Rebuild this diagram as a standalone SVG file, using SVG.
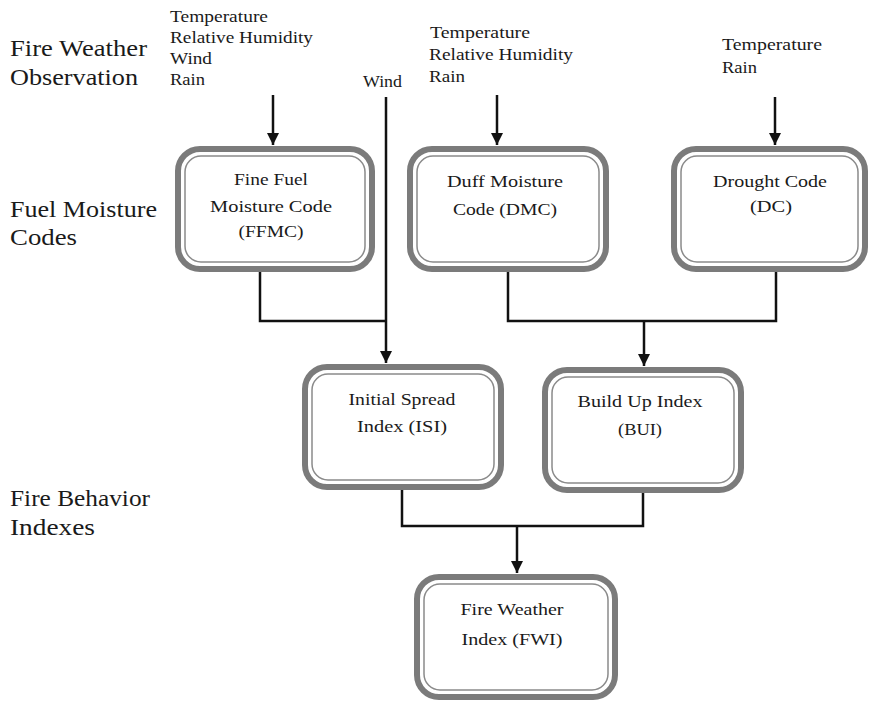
<svg xmlns="http://www.w3.org/2000/svg" width="869" height="701" viewBox="0 0 869 701">
<defs>
<style>
.bg{fill:#fff}
.outer{fill:#fff;stroke:#7b7b7b;stroke-width:6}
.inner{fill:none;stroke:#8a8a8a;stroke-width:1.5}
.sec{font-size:23px;fill:#1a1a1a}
.inp{font-size:17px;fill:#1a1a1a}
.lbl{font-size:17px;fill:#1a1a1a;text-anchor:middle}
.ln{fill:none;stroke:#111;stroke-width:2.5}
</style>
<marker id="ah" viewBox="0 0 10 10" refX="10" refY="5" markerWidth="5" markerHeight="5" markerUnits="strokeWidth" orient="auto">
<path d="M0,0 L10,5 L0,10 z" fill="#111"/>
</marker>
</defs>
<rect class="bg" x="0" y="0" width="869" height="701"/>
<g font-family="'Liberation Serif', 'DejaVu Serif', 'Times New Roman', serif">
<g id="section-labels">
<text class="sec" x="10" y="56" textLength="137" lengthAdjust="spacingAndGlyphs">Fire Weather</text>
<text class="sec" x="10" y="85" textLength="128" lengthAdjust="spacingAndGlyphs">Observation</text>
<text class="sec" x="10" y="217" textLength="147" lengthAdjust="spacingAndGlyphs">Fuel Moisture</text>
<text class="sec" x="10" y="245" textLength="67" lengthAdjust="spacingAndGlyphs">Codes</text>
<text class="sec" x="10" y="506" textLength="140" lengthAdjust="spacingAndGlyphs">Fire Behavior</text>
<text class="sec" x="10" y="535" textLength="85" lengthAdjust="spacingAndGlyphs">Indexes</text>
</g>

<g id="inputs-ffmc">
<text class="inp" x="170" y="22" textLength="98" lengthAdjust="spacingAndGlyphs">Temperature</text>
<text class="inp" x="170" y="43" textLength="143" lengthAdjust="spacingAndGlyphs">Relative Humidity</text>
<text class="inp" x="170" y="64" textLength="42" lengthAdjust="spacingAndGlyphs">Wind</text>
<text class="inp" x="170" y="85" textLength="35" lengthAdjust="spacingAndGlyphs">Rain</text>
</g>
<g id="input-wind">
<text class="inp" x="363" y="87" textLength="39" lengthAdjust="spacingAndGlyphs">Wind</text>
</g>
<g id="inputs-dmc">
<text class="inp" x="430" y="38" textLength="100" lengthAdjust="spacingAndGlyphs">Temperature</text>
<text class="inp" x="429" y="60" textLength="144" lengthAdjust="spacingAndGlyphs">Relative Humidity</text>
<text class="inp" x="429" y="82" textLength="36" lengthAdjust="spacingAndGlyphs">Rain</text>
</g>
<g id="inputs-dc">
<text class="inp" x="722" y="50" textLength="100" lengthAdjust="spacingAndGlyphs">Temperature</text>
<text class="inp" x="722" y="73" textLength="35" lengthAdjust="spacingAndGlyphs">Rain</text>
</g>

<g id="connectors">
<line class="ln" x1="273" y1="95" x2="273" y2="145" marker-end="url(#ah)"/>
<line class="ln" x1="497" y1="95" x2="497" y2="145" marker-end="url(#ah)"/>
<line class="ln" x1="775" y1="97" x2="775" y2="145" marker-end="url(#ah)"/>
<line class="ln" x1="386" y1="97" x2="386" y2="363" marker-end="url(#ah)"/>
<polyline class="ln" points="260,272 260,321 386,321"/>
<polyline class="ln" points="508,272 508,321 776,321 776,272"/>
<line class="ln" x1="644" y1="321" x2="644" y2="366" marker-end="url(#ah)"/>
<polyline class="ln" points="402,489 402,526 643,526 643,492"/>
<line class="ln" x1="517" y1="526" x2="517" y2="573" marker-end="url(#ah)"/>
</g>

<g id="ffmc">
<rect class="outer" x="178" y="149" width="194" height="120" rx="22"/>
<rect class="inner" x="185" y="156" width="180" height="106" rx="16"/>
<text class="lbl" x="271" y="185" textLength="74" lengthAdjust="spacingAndGlyphs">Fine Fuel</text>
<text class="lbl" x="271" y="212" textLength="122" lengthAdjust="spacingAndGlyphs">Moisture Code</text>
<text class="lbl" x="271" y="237" textLength="65" lengthAdjust="spacingAndGlyphs">(FFMC)</text>
</g>
<g id="dmc">
<rect class="outer" x="410" y="149" width="196" height="120" rx="22"/>
<rect class="inner" x="417" y="156" width="182" height="106" rx="16"/>
<text class="lbl" x="505" y="187" textLength="116" lengthAdjust="spacingAndGlyphs">Duff Moisture</text>
<text class="lbl" x="505" y="215" textLength="104" lengthAdjust="spacingAndGlyphs">Code (DMC)</text>
</g>
<g id="dc">
<rect class="outer" x="674" y="149" width="191" height="120" rx="22"/>
<rect class="inner" x="681" y="156" width="177" height="106" rx="16"/>
<text class="lbl" x="770" y="187" textLength="114" lengthAdjust="spacingAndGlyphs">Drought Code</text>
<text class="lbl" x="771" y="212" textLength="42" lengthAdjust="spacingAndGlyphs">(DC)</text>
</g>
<g id="isi">
<rect class="outer" x="305" y="367" width="196" height="120" rx="22"/>
<rect class="inner" x="312" y="374" width="182" height="106" rx="16"/>
<text class="lbl" x="402" y="405" textLength="107" lengthAdjust="spacingAndGlyphs">Initial Spread</text>
<text class="lbl" x="402" y="432" textLength="90" lengthAdjust="spacingAndGlyphs">Index (ISI)</text>
</g>
<g id="bui">
<rect class="outer" x="545" y="370" width="196" height="120" rx="22"/>
<rect class="inner" x="552" y="377" width="182" height="106" rx="16"/>
<text class="lbl" x="640" y="407" textLength="125" lengthAdjust="spacingAndGlyphs">Build Up Index</text>
<text class="lbl" x="640" y="435" textLength="44" lengthAdjust="spacingAndGlyphs">(BUI)</text>
</g>
<g id="fwi">
<rect class="outer" x="417" y="577" width="198" height="120" rx="22"/>
<rect class="inner" x="424" y="584" width="184" height="106" rx="16"/>
<text class="lbl" x="512" y="615" textLength="103" lengthAdjust="spacingAndGlyphs">Fire Weather</text>
<text class="lbl" x="512" y="645" textLength="101" lengthAdjust="spacingAndGlyphs">Index (FWI)</text>
</g>
</g>
</svg>
